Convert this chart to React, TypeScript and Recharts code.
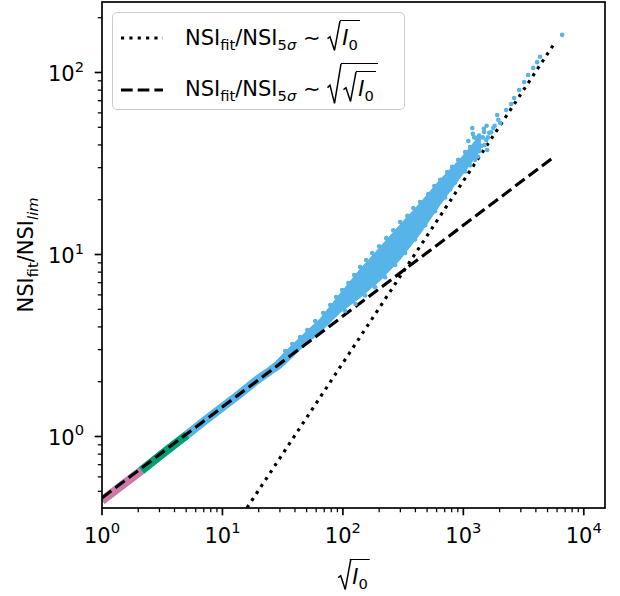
import React from 'react';
import { ComposedChart, XAxis, YAxis, Line, Scatter, Area } from 'recharts';

const FONT = '"DejaVu Sans", sans-serif';
const BLUE = '#56B4E9';
const GREEN = '#009E73';
const PINK = '#CC79A7';
const FS = 21;
const FS_SMALL = 14.7;

// ---------- data ----------
const pinkX = [1, 1.5, 2.12];
const pinkY = [0.445, 0.545, 0.65];
const greenX = [2.12, 3, 4, 5.1];
const greenY = [0.65, 0.78, 0.905, 1.025];
const blueLowX = [5.1, 7, 10, 14, 20, 25, 30];
const blueLowY = [1.025, 1.21, 1.45, 1.72, 2.08, 2.3, 2.52];

// dense core of the blue cloud
const coreX = [28, 32, 44, 65, 95, 139, 204, 299, 438, 643, 942, 1250, 1400];
const coreLow = [2.28, 2.44, 3.0, 3.75, 4.8, 5.8, 7.2, 9.4, 13.0, 18.8, 26.5, 34, 38];
const coreHigh = [2.6, 2.85, 3.5, 4.45, 6.1, 8.3, 11, 14.6, 19.2, 25.8, 33.5, 42, 45];

// individual blue points (edges and sparse upper tail)
const pointX = [
  33.2, 38.0, 44.2, 50.6, 58.9, 68.7, 78.5, 87.9, 98.6, 111, 124, 139, 156, 175, 200, 229, 262, 299, 343, 384, 423, 474, 438, 512, 574, 643, 735, 807, 906, 1035, 1138,
  104, 127, 153, 185, 224, 272, 329, 398, 482, 583, 706, 777, 855, 1035, 1138, 1253,
  1320, 1360, 1300, 1230, 1100, 1200, 1350, 1450, 1500, 1600, 1700, 1820, 1950, 1480, 1560,
  1186, 1279, 1406, 1489, 1547, 1578, 1641, 1770, 1910, 2023, 2265, 2495, 2640, 2905, 3200, 3450, 3800, 4100, 4335, 6607,
];
const pointY = [
  2.95, 3.22, 3.52, 3.85, 4.31, 4.77, 5.28, 5.84, 6.38, 6.97, 7.71, 8.53, 9.33, 10.2, 11.1, 12.3, 13.6, 15.1, 16.3, 18.0, 17.8, 18.2, 19.4, 21.5, 23.8, 25.7, 28.4, 30.3, 33.1, 36.6, 39.0,
  4.9, 5.35, 5.95, 6.6, 7.5, 8.75, 10.2, 12.1, 14.5, 17.3, 20.6, 22.8, 24.9, 28.6, 30.9, 33.2,
  34.5, 37, 40.5, 44, 42, 46, 45, 44, 40, 44, 47, 51, 55, 49, 51,
  49.5, 43.6, 39.5, 47.1, 42.6, 37.5, 46.6, 49.5, 58.4, 52.8, 62.2, 67.1, 72.4, 80.2, 88.7, 96.9, 106, 114, 122, 161,
];

// reference power laws
const dottedX = [16, 5800];
const dottedY = [0.406, 147];
const dashedX = [1, 5800];
const dashedY = [0.46, 34.8];

// ticks
const xMajor = [1, 10, 100, 1000, 10000];
const xTicks = [
  1, 2, 3, 4, 5, 6, 7, 8, 9,
  10, 20, 30, 40, 50, 60, 70, 80, 90,
  100, 200, 300, 400, 500, 600, 700, 800, 900,
  1000, 2000, 3000, 4000, 5000, 6000, 7000, 8000, 9000,
  10000,
];
const yMajor = [1, 10, 100];
const yTicks = [
  0.5, 0.6, 0.7, 0.8, 0.9,
  1, 2, 3, 4, 5, 6, 7, 8, 9,
  10, 20, 30, 40, 50, 60, 70, 80, 90,
  100, 200,
];

const DOT = '3.15 5.2';
const DASH = '11.65 5.05';
const LW = 3.15;

const zip = (xs: number[], ys: number[]) => xs.map((x, i) => ({ x, y: ys[i] }));

const XTick = (props: any) => {
  const { x, y, payload } = props;
  const v = payload.value;
  const major = xMajor.includes(v);
  const exp = Math.round(Math.log10(v));
  return (
    <g>
      <line x1={x} x2={x} y1={y} y2={y + (major ? 7.35 : 4.2)} stroke="#000" strokeWidth={major ? 1.68 : 1.26} />
      {major && (
        <text x={x} y={y + 34.5} textAnchor="middle" fontSize={FS} fontFamily={FONT} fill="#000">
          10<tspan dy={-9.5} fontSize={FS_SMALL}>{exp}</tspan>
        </text>
      )}
    </g>
  );
};

const YTick = (props: any) => {
  const { x, y, payload } = props;
  const v = payload.value;
  const major = yMajor.includes(v);
  const exp = Math.round(Math.log10(v));
  return (
    <g>
      <line x1={x - (major ? 7.35 : 4.2)} x2={x} y1={y} y2={y} stroke="#000" strokeWidth={major ? 1.68 : 1.26} />
      {major && (
        <text x={x - 18} y={y + 8.5} textAnchor="end" fontSize={FS} fontFamily={FONT} fill="#000">
          10<tspan dy={-9.5} fontSize={FS_SMALL}>{exp}</tspan>
        </text>
      )}
    </g>
  );
};

const Sub = ({ children, italic }: any) => (
  <span style={{ fontSize: FS_SMALL, position: 'relative', top: 5, fontStyle: italic ? 'italic' : 'normal' }}>{children}</span>
);

// radical: overline `up` px above baseline, bottom `down` px below baseline
const Sqrt = ({ children, up = 26, down = 5, w = 13 }: any) => {
  const ascent = 0.928 * FS;
  const top = ascent - up;
  const h = up + down;
  return (
    <span style={{ position: 'relative', paddingLeft: w + 2, paddingRight: 2 }}>
      <svg style={{ position: 'absolute', left: 0, top, overflow: 'visible' }} width={w + 1} height={h}>
        <polyline
          points={`0.5,${h * 0.6} 3,${h * 0.54} 7.5,${h - 0.6} ${w},0.8`}
          fill="none"
          stroke="#000"
          strokeWidth={1.5}
        />
      </svg>
      <span style={{ position: 'absolute', left: w - 0.3, right: 0, top, borderTop: '1.6px solid #000' }} />
      {children}
    </span>
  );
};

const I0 = () => (
  <>
    <i>I</i>
    <Sub>0</Sub>
  </>
);

const dotShape = (p: any) => <circle cx={p.cx} cy={p.cy} r={2.3} fill={BLUE} />;

const textBox = (left: number, baseline: number, extra: any = {}) => ({
  position: 'absolute' as const,
  left,
  top: baseline - 17.8,
  fontSize: FS,
  lineHeight: `${FS}px`,
  whiteSpace: 'nowrap' as const,
  ...extra,
});

export default function App() {
  const core = coreX.map((x, i) => ({ x, r: [coreLow[i], coreHigh[i]] }));
  const pts = zip(pointX, pointY);
  const lineStyle = { isAnimationActive: false, dot: false, activeDot: false, type: 'linear' as const };

  return (
    <div style={{ position: 'absolute', left: 0, top: 0, width: 620, height: 596, background: '#fff', fontFamily: FONT, color: '#000' }}>
      <ComposedChart width={620} height={596} margin={{ top: 2, right: 15, bottom: 0, left: 0 }}>
        <XAxis
          dataKey="x"
          type="number"
          scale="log"
          domain={[1, 15000]}
          allowDataOverflow
          ticks={xTicks}
          interval={0}
          tick={<XTick />}
          tickLine={false}
          axisLine={false}
          tickSize={0}
          tickMargin={0}
          height={88}
        />
        <YAxis
          dataKey="y"
          type="number"
          scale="log"
          domain={[0.4047, 244]}
          allowDataOverflow
          ticks={yTicks}
          interval={0}
          tick={<YTick />}
          tickLine={false}
          axisLine={false}
          tickSize={0}
          tickMargin={0}
          width={102}
        />
        <Area data={core} dataKey="r" type="linear" stroke={BLUE} strokeWidth={1} fill={BLUE} fillOpacity={1} isAnimationActive={false} dot={false} activeDot={false} />
        <Scatter data={pts} shape={dotShape} isAnimationActive={false} />
        <Line data={zip(pinkX, pinkY)} dataKey="y" stroke={PINK} strokeWidth={8.5} {...lineStyle} />
        <Line data={zip(greenX, greenY)} dataKey="y" stroke={GREEN} strokeWidth={8.5} {...lineStyle} />
        <Line data={zip(blueLowX, blueLowY)} dataKey="y" stroke={BLUE} strokeWidth={8.5} {...lineStyle} />
        <Line data={zip(dottedX, dottedY)} dataKey="y" stroke="#000" strokeWidth={LW} strokeDasharray={DOT} {...lineStyle} />
        <Line data={zip(dashedX, dashedY)} dataKey="y" stroke="#000" strokeWidth={LW} strokeDasharray={DASH} {...lineStyle} />
      </ComposedChart>

      {/* axes frame */}
      <svg style={{ position: 'absolute', left: 0, top: 0, pointerEvents: 'none' }} width={620} height={596}>
        <rect x={102} y={2} width={503} height={506} fill="none" stroke="#000" strokeWidth={1.68} />
      </svg>

      {/* legend */}
      <div
        style={{
          position: 'absolute',
          left: 112,
          top: 12,
          width: 293,
          height: 98,
          boxSizing: 'border-box',
          border: '1.6px solid #cccccc',
          borderRadius: 5,
          background: 'rgba(255,255,255,0.8)',
        }}
      />
      <svg style={{ position: 'absolute', left: 0, top: 0, pointerEvents: 'none' }} width={620} height={596}>
        <line x1={121} x2={163} y1={38} y2={38} stroke="#000" strokeWidth={LW} strokeDasharray={DOT} />
        <line x1={121} x2={163} y1={90} y2={90} stroke="#000" strokeWidth={LW} strokeDasharray={DASH} />
      </svg>
      <div style={textBox(185, 46)}>
        NSI<Sub>fit</Sub>/NSI<Sub>5<i>σ</i></Sub> ∼ <Sqrt><I0 /></Sqrt>
      </div>
      <div style={textBox(185, 97)}>
        NSI<Sub>fit</Sub>/NSI<Sub>5<i>σ</i></Sub> ∼ <Sqrt up={34} down={7} w={14}><Sqrt><I0 /></Sqrt></Sqrt>
      </div>

      {/* x label */}
      <div style={textBox(353.5, 585, { transform: 'translateX(-50%)' })}>
        <Sqrt><I0 /></Sqrt>
      </div>

      {/* y label */}
      <div
        style={{
          position: 'absolute',
          left: 27,
          top: 255,
          transform: 'translate(-50%, -50%) rotate(-90deg)',
          fontSize: FS,
          lineHeight: `${FS}px`,
          whiteSpace: 'nowrap',
        }}
      >
        NSI<Sub>fit</Sub>/NSI<Sub italic>lim</Sub>
      </div>
    </div>
  );
}
